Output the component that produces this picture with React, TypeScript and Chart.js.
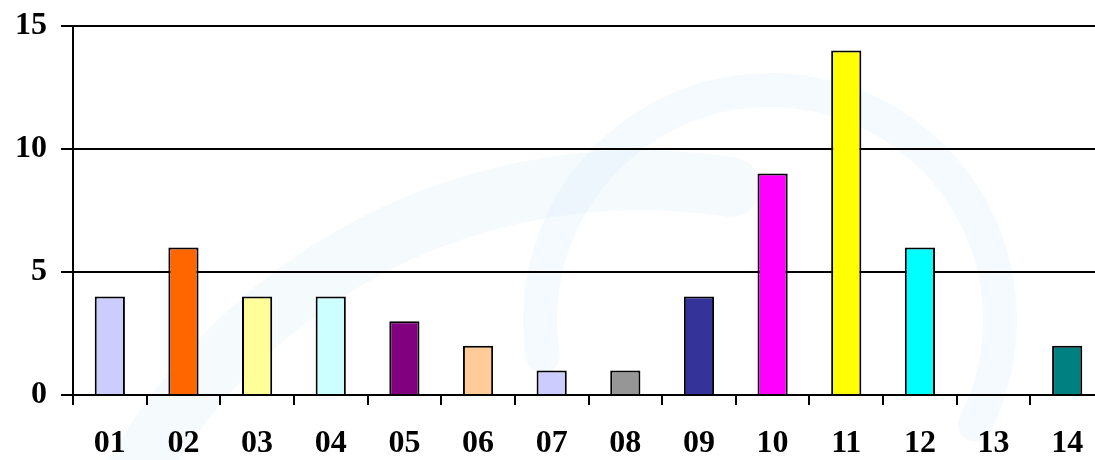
import React, { useEffect, useRef } from "react";
import { Chart, registerables } from "chart.js";

Chart.register(...registerables);

const categories = ["01", "02", "03", "04", "05", "06", "07", "08", "09", "10", "11", "12", "13", "14"];
const values = [4, 6, 4, 4, 3, 2, 1, 1, 4, 9, 14, 6, 0, 2];
const barColors = [
  "#CCCCFF", "#FF6600", "#FFFF99", "#CCFFFF", "#800080", "#FFCC99", "#CCCCFF",
  "#969696", "#333399", "#FF00FF", "#FFFF00", "#00FFFF", "#FFFFFF", "#008080",
];
const yTicks = [0, 5, 10, 15];

const watermark = {
  id: "watermark",
  beforeDraw(chart: any) {
    const ctx = chart.ctx;
    ctx.save();
    ctx.lineCap = "round";
    ctx.strokeStyle = "rgba(205,230,245,0.22)";
    ctx.lineWidth = 34;
    ctx.beginPath();
    ctx.arc(770, 320, 230, Math.PI * 0.95, Math.PI * 2.15);
    ctx.stroke();
    ctx.strokeStyle = "rgba(205,230,245,0.2)";
    ctx.lineWidth = 60;
    ctx.beginPath();
    ctx.arc(640, 760, 580, Math.PI * 1.05, Math.PI * 1.55);
    ctx.stroke();
    ctx.restore();
  },
};

export default function App() {
  const ref = useRef<HTMLCanvasElement | null>(null);
  useEffect(() => {
    if (!ref.current) return;
    const font = { family: "'Liberation Serif', serif", size: 32, weight: "bold" as const };
    const chart = new Chart(ref.current, {
      type: "bar",
      data: {
        labels: categories,
        datasets: [
          {
            data: values,
            backgroundColor: barColors,
            borderColor: "#000000",
            borderWidth: 2,
            borderSkipped: "bottom",
            barPercentage: 0.41,
            categoryPercentage: 1,
          },
        ],
      },
      plugins: [watermark],
      options: {
        animation: false,
        responsive: false,
        maintainAspectRatio: false,
        layout: { padding: { top: 26, left: 0, right: 0, bottom: 0 } },
        plugins: { legend: { display: false }, tooltip: { enabled: false } },
        scales: {
          x: {
            offset: true,
            grid: {
              offset: true,
              drawOnChartArea: false,
              drawTicks: true,
              tickLength: 10,
              color: "#000000",
              lineWidth: 2,
            },
            border: { display: true, color: "#000000", width: 2 },
            ticks: { color: "#000000", font, padding: 20 },
            afterFit: (s: any) => {
              s.height = 65;
              s.paddingLeft = 0;
              s.paddingRight = 0;
            },
          },
          y: {
            min: 0,
            max: 15,
            afterBuildTicks: (s: any) => {
              s.ticks = yTicks.map((v) => ({ value: v }));
            },
            grid: {
              color: "#000000",
              lineWidth: 2,
              tickLength: 12,
              drawTicks: true,
            },
            border: { display: true, color: "#000000", width: 2 },
            ticks: { color: "#000000", font, padding: 14 },
            afterFit: (s: any) => {
              s.width = 73;
              s.paddingTop = 0;
              s.paddingBottom = 0;
            },
          },
        },
      },
    });
    return () => chart.destroy();
  }, []);
  return (
    <div
      style={{
        position: "fixed",
        left: 0,
        top: 0,
        width: 1095,
        height: 460,
        overflow: "hidden",
        background: "#ffffff",
      }}
    >
      <canvas ref={ref} width={1104} height={460} style={{ display: "block" }} />
    </div>
  );
}
